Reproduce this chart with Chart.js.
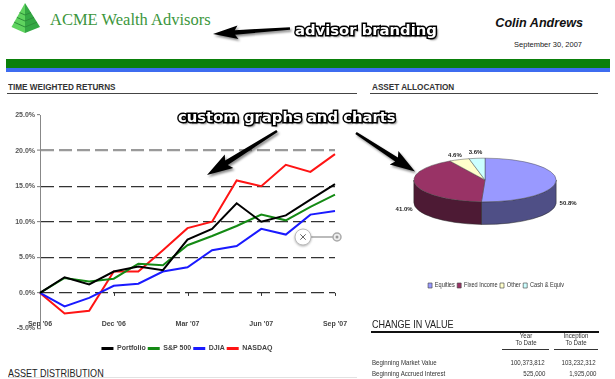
<!DOCTYPE html>
<html>
<head>
<meta charset="utf-8">
<script src="https://cdn.jsdelivr.net/npm/chart.js@4.4.1/dist/chart.umd.min.js"></script>
<style>
html,body{margin:0;padding:0;background:#fff}
body{width:615px;height:379px;position:relative;overflow:hidden;font-family:'Liberation Sans',Arial,sans-serif}
.a{position:absolute;white-space:nowrap}
.hd{font-size:9.5px;font-weight:bold;line-height:10px;color:#333;transform:scaleX(.86);transform-origin:left center}
.hd2{font-size:10.5px;line-height:11px;color:#222;transform:scaleX(.86);transform-origin:left center}
.t7{font-size:7.3px;line-height:8px;color:#333;transform:scaleX(.84)}
.l{transform-origin:left center}
.r{transform-origin:right center;text-align:right}
.c{transform-origin:center center;text-align:center}
.rule{position:absolute}
.ann{position:absolute;white-space:nowrap;font-family:'DejaVu Sans',sans-serif;font-weight:bold;font-size:14.8px;line-height:17px;color:#fff;-webkit-text-stroke:3px #000;paint-order:stroke fill;text-shadow:2px 2px 2px rgba(0,0,0,.55);z-index:6}
canvas{position:absolute}
#ov{position:absolute;left:0;top:0;z-index:5}
</style>
</head>
<body>
<script>
// ---- data ----
const months = ["Sep '06","Oct '06","Nov '06","Dec '06","Jan '07","Feb '07","Mar '07","Apr '07","May '07","Jun '07","Jul '07","Aug '07","Sep '07"];
const portfolio = [0, 2.2, 1.2, 3.0, 3.7, 3.2, 7.5, 9.0, 12.6, 10.0, 10.9, 13.1, 15.3];
const sp500     = [0, 2.1, 1.6, 2.0, 4.1, 3.9, 6.7, 8.0, 9.4, 11.0, 10.2, 12.1, 13.8];
const djia      = [0, -1.9, -0.7, 1.0, 1.3, 3.0, 3.6, 6.0, 6.6, 9.0, 8.2, 11.0, 11.5];
const nasdaq    = [0, -2.9, -2.5, 3.0, 3.0, 6.0, 9.1, 10.0, 15.8, 15.0, 18.0, 17.0, 19.5];
const yTicks = [-5, 0, 5, 10, 15, 20, 25];

const allocLabels = ['Equities', 'Fixed Income', 'Other', 'Cash & Equiv'];
const allocValues = [50.8, 41.0, 4.6, 3.6];
const allocTop  = ['#9999FF', '#993366', '#FFFFCC', '#CCFFFF'];
const allocSide = ['#4f4f86', '#4d1a34', '#8c8c70', '#6f8c8c'];

const valueRows = ['Beginning Market Value', 'Beginning Accrued Interest'];
const ytdValues = ['100,373,812', '525,000'];
const itdValues = ['103,232,312', '1,925,000'];
</script>

<!-- header -->
<svg class="a" style="left:0;top:0" width="48" height="36">
  <polygon points="25,3 11.5,27 25,33" fill="#5fd35f"/>
  <polygon points="25,3 25,33 40,27" fill="#34a844"/>
  <polyline points="19.6,12.6 25,15 31,12.6" fill="none" stroke="#2d8d3a" stroke-width="1"/>
  <polyline points="16.9,17.4 25,21 34,17.4" fill="none" stroke="#2d8d3a" stroke-width="1"/>
  <polyline points="14.2,22.2 25,27 37,22.2" fill="none" stroke="#2d8d3a" stroke-width="1"/>
</svg>
<div class="a" style="left:50px;top:11px;font-family:'Liberation Serif',serif;font-size:16.5px;line-height:17px;color:#3c963c">ACME Wealth Advisors</div>
<div class="a" style="right:32px;top:16.5px;font-size:12.6px;line-height:13px;font-weight:bold;font-style:italic;color:#111">Colin Andrews</div>
<div class="a" style="right:33px;top:41px;font-size:7.5px;line-height:8px;color:#222">September 30, 2007</div>
<div class="rule" style="left:6px;top:59px;width:604px;height:8.5px;background:#0a800a"></div>
<div class="rule" style="left:6px;top:67.5px;width:604px;height:4.5px;background:#3d6cf0"></div>

<div class="a hd" style="left:8px;top:82px">TIME WEIGHTED RETURNS</div>
<div class="rule" style="left:7px;top:92.5px;width:350px;height:1.5px;background:#444"></div>
<div class="a hd" style="left:372px;top:82px">ASSET ALLOCATION</div>
<div class="rule" style="left:370px;top:92.5px;width:228px;height:1.5px;background:#444"></div>

<canvas id="line" width="375" height="262" style="left:0;top:100px;width:375px;height:262px"></canvas>
<canvas id="pie" width="230" height="199" style="left:370px;top:100px;width:230px;height:199px"></canvas>

<div class="a hd2" style="left:8px;top:367.5px">ASSET DISTRIBUTION</div>
<div class="rule" style="left:8px;top:377px;width:349px;height:1px;background:#e2e2e2"></div>

<div class="a hd2" style="left:372px;top:318.5px">CHANGE IN VALUE</div>
<div class="rule" style="left:371px;top:331px;width:228px;height:2px;background:#111"></div>
<div class="a t7 c" style="left:496px;width:60px;top:332px">Year</div>
<div class="a t7 c" style="left:496px;width:60px;top:339px">To Date</div>
<div class="a t7 c" style="left:546px;width:60px;top:332px">Inception</div>
<div class="a t7 c" style="left:546px;width:60px;top:339px">To Date</div>
<div class="rule" style="left:502px;top:348.5px;width:47px;height:1px;background:#333"></div>
<div class="rule" style="left:554px;top:348.5px;width:44px;height:1px;background:#333"></div>
<div id="tbl"></div>

<div class="ann" style="left:295px;top:20.5px">advisor branding</div>
<div class="ann" style="left:178px;top:107.5px">custom graphs and charts</div>
<svg id="ov" width="615" height="379"></svg>

<script>
// table rows
(function(){
  const t = document.getElementById('tbl');
  const tops = [359, 370];
  valueRows.forEach((lbl, i) => {
    t.insertAdjacentHTML('beforeend',
      `<div class="a t7 l" style="left:372px;top:${tops[i]}px">${lbl}</div>` +
      `<div class="a t7 r" style="right:70px;top:${tops[i]}px">${ytdValues[i]}</div>` +
      `<div class="a t7 r" style="right:19px;top:${tops[i]}px">${itdValues[i]}</div>`);
  });
})();

// annotation arrows + widget
(function(){
  const ov = document.getElementById('ov');
  function arrow(x1,y1,x2,y2,hl,hw,w1,w2){
    const dx=x2-x1, dy=y2-y1, L=Math.hypot(dx,dy), ux=dx/L, uy=dy/L, nx=-uy, ny=ux;
    const bx=x2-ux*hl, by=y2-uy*hl;
    const bb=3;
    const p=[[x1+nx*w1/2,y1+ny*w1/2],[bx+nx*w2/2,by+ny*w2/2],[bx-ux*bb+nx*hw,by-uy*bb+ny*hw],[x2,y2],
             [bx-ux*bb-nx*hw,by-uy*bb-ny*hw],[bx-nx*w2/2,by-ny*w2/2],[x1-nx*w1/2,y1-ny*w1/2]];
    return `<polygon points="${p.map(q=>q[0].toFixed(1)+','+q[1].toFixed(1)).join(' ')}" fill="#000"/>`;
  }
  ov.innerHTML =
    `<defs><filter id="sh" x="-20%" y="-20%" width="140%" height="140%"><feDropShadow dx="1.5" dy="2" stdDeviation="1.3" flood-color="#000" flood-opacity="0.45"/></filter></defs>` +
    `<g filter="url(#sh)">` +
    arrow(290,28.5,213,34,22,6.8,2.5,4.5) +
    arrow(277,131,207,175,23,8,2.5,5) +
    arrow(356,133,415,171.5,22,8,2.5,5) +
    `</g>` +
    `<line x1="311" y1="237" x2="334" y2="237" stroke="#bbb" stroke-width="2"/>` +
    `<circle cx="337" cy="237" r="4" fill="#eee" stroke="#aaa" stroke-width="1.5"/>` +
    `<circle cx="337" cy="237" r="1.5" fill="#999"/>` +
    `<circle cx="303" cy="237" r="8" fill="#fff" stroke="#bbb" stroke-width="1" style="filter:drop-shadow(0 1px 1px rgba(0,0,0,.3))"/>` +
    `<path d="M300.3 234.3 L305.7 239.7 M305.7 234.3 L300.3 239.7" stroke="#666" stroke-width="1"/>`;
})();

Chart.defaults.font.family = "'Liberation Sans', Arial, sans-serif";

// ---- line chart ----
const zeroTicks = {
  id: 'zeroTicks',
  beforeDatasetsDraw(chart) {
    const {ctx, scales: {x, y}} = chart;
    const y0 = y.getPixelForValue(0);
    ctx.save(); ctx.strokeStyle = '#333'; ctx.lineWidth = 1;
    months.forEach((m, i) => {
      if (i % 3 === 0 && i > 0) {
        const px = Math.round(x.getPixelForValue(i)) + 0.5;
        ctx.beginPath(); ctx.moveTo(px, y0); ctx.lineTo(px, y0 + 3); ctx.stroke();
      }
    });
    ctx.restore();
  }
};

new Chart(document.getElementById('line'), {
  type: 'line',
  data: {
    labels: months,
    datasets: [
      {label: 'Portfolio', data: portfolio, borderColor: '#000000', backgroundColor: '#000000'},
      {label: 'S&P 500', data: sp500, borderColor: '#148a14', backgroundColor: '#148a14'},
      {label: 'DJIA', data: djia, borderColor: '#1a1aff', backgroundColor: '#1a1aff'},
      {label: 'NASDAQ', data: nasdaq, borderColor: '#ff1414', backgroundColor: '#ff1414'}
    ]
  },
  options: {
    responsive: false, animation: false, devicePixelRatio: 1,
    layout: {padding: {left: 0, right: 1, top: 15, bottom: 0}},
    elements: {line: {borderWidth: 2, tension: 0}, point: {radius: 0, hoverRadius: 0}},
    events: [],
    scales: {
      x: {
        grid: {display: false, drawTicks: false}, border: {display: false},
        ticks: {autoSkip: false, maxRotation: 0, mirror: true, padding: 0, color: '#444',
                font: {size: 7, weight: 'bold'},
                callback: (v, i) => (i % 3 === 0 ? months[i] : '')},
        afterFit: s => { s.height = 14.5; }
      },
      y: {
        min: -5, max: 25,
        afterBuildTicks: s => { s.ticks = yTicks.map(v => ({value: v})); },
        ticks: {padding: 2, color: '#555', font: {size: 7, weight: 'bold'},
                callback: v => v.toFixed(1) + '%'},
        grid: {
          color: c => (c.tick && c.tick.value === 20 ? '#9a9a9a' : (c.tick && (c.tick.value === 25 || c.tick.value === -5) ? 'rgba(0,0,0,0)' : '#333')),
          lineWidth: c => (c.tick && c.tick.value === 20 ? 2.2 : 1.3),
          drawTicks: true, tickLength: 3, tickColor: '#777', tickWidth: 1, tickBorderDash: []
        },
        border: {display: true, color: '#888', width: 1, dash: [13, 5]},
        afterFit: s => { s.width = 40; }
      },
      yPad: {
        position: 'right', display: true,
        grid: {display: false, drawTicks: false}, border: {display: false}, ticks: {display: false},
        afterFit: s => { s.width = 39; }
      }
    },
    plugins: {
      tooltip: {enabled: false},
      legend: {
        position: 'bottom',
        labels: {
          boxWidth: 12, boxHeight: 3, padding: 2, color: '#444',
          font: {size: 7, weight: 'bold'},
          generateLabels: ch => Chart.defaults.plugins.legend.labels.generateLabels(ch).map(l => Object.assign(l, {lineWidth: 0}))
        }
      }
    }
  },
  plugins: [zeroTicks]
});

// ---- 3D pie ----
const pie3d = {
  id: 'pie3d',
  beforeDraw(chart, args, o) {
    // narrow the legend (drawn before the datasets)
    const ctx = chart.ctx, lx = chart.width / 2;
    ctx.save();
    ctx.translate(lx + o.legendShift, 0); ctx.scale(o.legendScale, 1); ctx.translate(-lx, 0);
  },
  beforeDatasetsDraw(chart, args, o) {
    const ctx = chart.ctx, arcs = chart.getDatasetMeta(0).data;
    ctx.restore();
    const cx = arcs[0].x, cy = arcs[0].y, r = arcs[0].outerRadius;
    ctx.save();
    ctx.translate(cx, o.centerY); ctx.scale(1, o.squash); ctx.translate(-cx, -cy);
    const D = o.depth / o.squash;
    arcs.forEach((a, i) => {
      [-2 * Math.PI, 0, 2 * Math.PI].forEach(k => {
        const lo = Math.max(a.startAngle, k), hi = Math.min(a.endAngle, k + Math.PI);
        if (hi > lo) {
          ctx.beginPath();
          ctx.arc(cx, cy, r, lo, hi);
          ctx.arc(cx, cy + D, r, hi, lo, true);
          ctx.closePath();
          ctx.fillStyle = o.sideColors[i]; ctx.fill();
          ctx.lineWidth = 0.8; ctx.strokeStyle = '#2a2a2a'; ctx.stroke();
        }
      });
    });
  },
  afterDatasetsDraw(chart) { chart.ctx.restore(); },
  afterDraw(chart, args, o) {
    const ctx = chart.ctx, arcs = chart.getDatasetMeta(0).data;
    const cx = arcs[0].x, r = arcs[0].outerRadius;
    ctx.save();
    ctx.font = "bold 6px 'Liberation Sans', Arial, sans-serif";
    ctx.fillStyle = '#222'; ctx.textAlign = 'center'; ctx.textBaseline = 'middle';
    arcs.forEach((a, i) => {
      const mid = (a.startAngle + a.endAngle) / 2;
      const x = cx + (r + 12) * Math.cos(mid);
      const y = o.centerY + (r * o.squash + 6) * Math.sin(mid) + o.depth * Math.min(1, 1 + Math.sin(mid));
      ctx.fillText(allocValues[i].toFixed(1) + '%', x, y);
    });
    ctx.restore();
  }
};

new Chart(document.getElementById('pie'), {
  type: 'pie',
  data: {
    labels: allocLabels,
    datasets: [{data: allocValues, backgroundColor: allocTop, borderColor: '#444', borderWidth: 0.7, clip: false, hoverOffset: 0}]
  },
  options: {
    responsive: false, animation: false, devicePixelRatio: 1, events: [],
    rotation: 0,
    layout: {padding: {left: 0, right: 0, top: 36, bottom: 0}},
    plugins: {
      tooltip: {enabled: false},
      legend: {position: 'bottom', labels: {boxWidth: 5, boxHeight: 5, padding: 3, color: '#333',
               font: {size: 7}}},
      pie3d: {squash: 0.307, depth: 22.6, centerY: 80, sideColors: allocSide, legendScale: 0.8, legendShift: 11}
    }
  },
  plugins: [pie3d]
});
</script>
</body>
</html>
